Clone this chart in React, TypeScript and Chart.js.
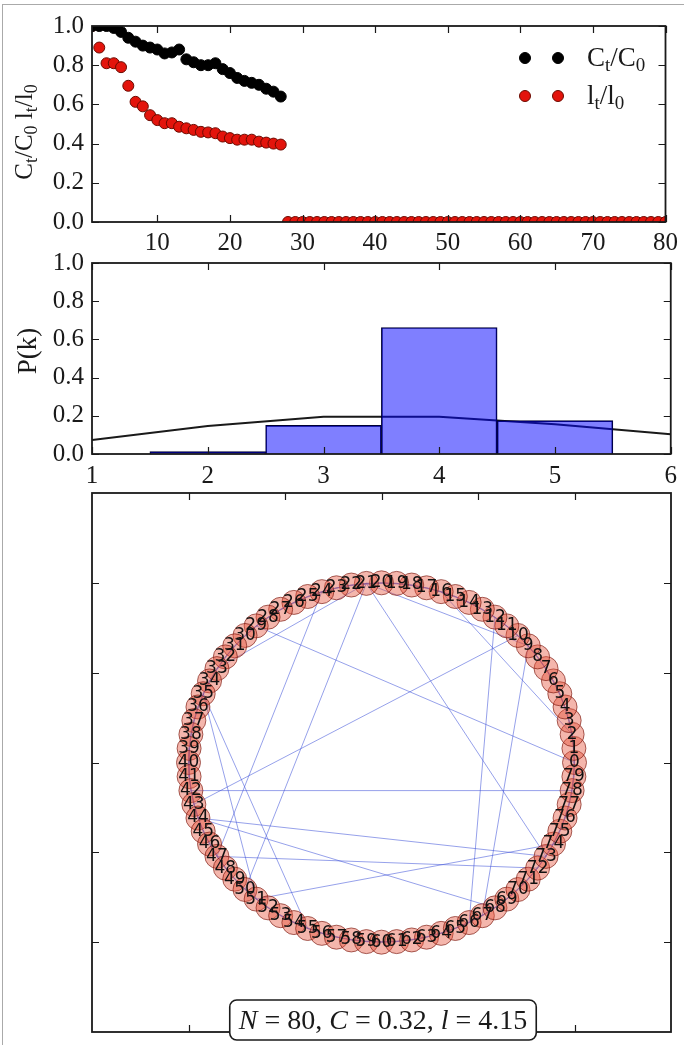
import React, { useEffect, useRef } from "react";
import { Chart, registerables } from "chart.js";
Chart.register(...registerables);

// ---------- DATA ----------
const timeSteps = Array.from({ length: 80 }, (_, i) => i + 1);
const clusteringRatio = [
  1.0, 1.0, 1.0, 0.99, 0.97, 0.94, 0.92, 0.9, 0.89, 0.88, 0.86, 0.865, 0.88, 0.83,
  0.815, 0.8, 0.8, 0.81, 0.78, 0.76, 0.735, 0.72, 0.71, 0.7, 0.68, 0.665, 0.64,
];
const pathRatio = [
  1.0, 0.89, 0.81, 0.81, 0.79, 0.695, 0.613, 0.59, 0.545, 0.52, 0.504, 0.504, 0.486,
  0.478, 0.47, 0.46, 0.457, 0.453, 0.436, 0.428, 0.42, 0.42, 0.42, 0.41, 0.405, 0.40,
  0.395, 0, 0, 0, 0, 0, 0, 0, 0, 0, 0, 0, 0, 0, 0, 0, 0, 0, 0, 0, 0, 0, 0, 0, 0, 0,
  0, 0, 0, 0, 0, 0, 0, 0, 0, 0, 0, 0, 0, 0, 0, 0, 0, 0, 0, 0, 0, 0, 0, 0, 0, 0, 0, 0, 0,
];
const topXTicks = [10, 20, 30, 40, 50, 60, 70, 80];
const unitYTicks = [0, 0.2, 0.4, 0.6, 0.8, 1.0];

const degreeBins = [2, 3, 4, 5];
const degreeFreq = [0.0125, 0.15, 0.6625, 0.175];
const poissonK = [1, 2, 3, 4, 5, 6];
const poissonP = [0.073, 0.147, 0.195, 0.195, 0.156, 0.104];
const degXTicks = [1, 2, 3, 4, 5, 6];

const nodeCount = 80;
const nodeIds = Array.from({ length: nodeCount }, (_, i) => i);
const shortcutEdges: [number, number][] = [
  [42, 78], [29, 0], [21, 50], [33, 21], [21, 9], [21, 73], [24, 47], [44, 73],
  [44, 68], [51, 74], [12, 66], [9, 67], [16, 2], [35, 51], [35, 55], [47, 72], [43, 10],
];
const netTicks = [-1, -0.5, 0, 0.5, 1];

// ---------- HELPERS ----------
const SERIF = '"Liberation Serif", "Times New Roman", serif';

type Part = [string, "n" | "s" | "i"];
function drawRich(ctx: CanvasRenderingContext2D, parts: Part[], x: number, y: number, size: number, align: "left" | "center" = "left") {
  const fontFor = (st: string) =>
    st === "s" ? `${Math.round(size * 0.7)}px ${SERIF}` : st === "i" ? `italic ${size}px ${SERIF}` : `${size}px ${SERIF}`;
  let total = 0;
  for (const [t, st] of parts) {
    ctx.font = fontFor(st);
    total += ctx.measureText(t).width;
  }
  let cx = align === "center" ? x - total / 2 : x;
  ctx.textBaseline = "alphabetic";
  ctx.textAlign = "left";
  for (const [t, st] of parts) {
    ctx.font = fontFor(st);
    ctx.fillText(t, cx, y + (st === "s" ? size * 0.2 : 0));
    cx += ctx.measureText(t).width;
  }
  return total;
}

const frameTicks = {
  id: "frameTicks",
  afterDatasetsDraw(chart: any, _a: any, opts: any) {
    const { ctx, chartArea: a, scales } = chart;
    ctx.save();
    ctx.strokeStyle = "#1a1a1a";
    ctx.lineWidth = 1.2;
    const L = 7;
    ctx.beginPath();
    for (const v of opts.xt || []) {
      const p = Math.round(scales.x.getPixelForValue(v)) + 0.5;
      ctx.moveTo(p, a.bottom);
      ctx.lineTo(p, a.bottom - L);
      ctx.moveTo(p, a.top);
      ctx.lineTo(p, a.top + L);
    }
    for (const v of opts.yt || []) {
      const p = Math.round(scales.y.getPixelForValue(v)) + 0.5;
      ctx.moveTo(a.left, p);
      ctx.lineTo(a.left + L, p);
      ctx.moveTo(a.right, p);
      ctx.lineTo(a.right - L, p);
    }
    ctx.stroke();
    ctx.lineWidth = 1.8;
    ctx.strokeRect(a.left, a.top, a.right - a.left, a.bottom - a.top);
    ctx.restore();
  },
};

const tickFont = { family: SERIF, size: 25 };
function axisBase(extra: any) {
  return {
    grid: { display: false, drawTicks: false },
    border: { display: false },
    ticks: { font: tickFont, color: "#1a1a1a", maxRotation: 0, autoSkip: false, padding: 8 },
    ...extra,
  };
}

function useChart(ref: React.RefObject<HTMLCanvasElement>, make: () => any) {
  useEffect(() => {
    if (!ref.current) return;
    const c = new Chart(ref.current, make());
    return () => c.destroy();
  }, []);
}

export default function App() {
  const r1 = useRef<HTMLCanvasElement>(null);
  const r2 = useRef<HTMLCanvasElement>(null);
  const r3 = useRef<HTMLCanvasElement>(null);

  useEffect(() => {
    document.body.style.margin = "0";
  }, []);

  // ---- top chart ----
  useChart(r1, () => ({
    type: "scatter",
    data: {
      datasets: [
        {
          data: clusteringRatio.map((v, i) => ({ x: timeSteps[i], y: v })),
          pointRadius: 5.5,
          backgroundColor: "#000",
          borderColor: "#000",
          borderWidth: 1,
          clip: 0,
        },
        {
          data: pathRatio.map((v, i) => ({ x: timeSteps[i], y: v })),
          pointRadius: 5.5,
          backgroundColor: "#e3140c",
          borderColor: "#6a0a00",
          borderWidth: 1,
          clip: 0,
        },
      ],
    },
    options: {
      animation: false,
      responsive: false,
      events: [],
      layout: { padding: { left: 0, right: 11, top: 26, bottom: 0 } },
      plugins: {
        legend: { display: false },
        tooltip: { enabled: false },
        frameTicks: { xt: topXTicks, yt: unitYTicks },
      },
      scales: {
        x: axisBase({
          type: "linear",
          min: 1,
          max: 80,
          afterBuildTicks: (s: any) => (s.ticks = topXTicks.map((v) => ({ value: v }))),
          afterFit: (s: any) => (s.height = 40),
          ticks: { font: tickFont, color: "#1a1a1a", maxRotation: 0, autoSkip: false, padding: 6 },
        }),
        y: axisBase({
          min: 0,
          max: 1,
          afterBuildTicks: (s: any) => (s.ticks = unitYTicks.map((v) => ({ value: v }))),
          afterFit: (s: any) => (s.width = 92),
          ticks: { font: tickFont, color: "#1a1a1a", padding: 8, callback: (v: any) => Number(v).toFixed(1) },
        }),
      },
    },
    plugins: [
      frameTicks,
      {
        id: "topText",
        afterDraw(chart: any) {
          const ctx = chart.ctx;
          ctx.save();
          ctx.fillStyle = "#1a1a1a";
          ctx.translate(32, 132);
          ctx.rotate(-Math.PI / 2);
          drawRich(
            ctx,
            [["C", "n"], ["t", "s"], ["/C", "n"], ["0", "s"], [" l", "n"], ["t", "s"], ["/l", "n"], ["0", "s"]],
            0,
            0,
            25,
            "center"
          );
          ctx.restore();
          // legend
          ctx.save();
          const rows: { y: number; fill: string; edge: string; parts: Part[] }[] = [
            { y: 58, fill: "#000", edge: "#000", parts: [["C", "n"], ["t", "s"], ["/C", "n"], ["0", "s"]] },
            { y: 96, fill: "#e3140c", edge: "#6a0a00", parts: [["l", "n"], ["t", "s"], ["/l", "n"], ["0", "s"]] },
          ];
          for (const row of rows) {
            for (const mx of [525, 558]) {
              ctx.beginPath();
              ctx.arc(mx, row.y, 5.5, 0, Math.PI * 2);
              ctx.fillStyle = row.fill;
              ctx.fill();
              ctx.strokeStyle = row.edge;
              ctx.lineWidth = 1;
              ctx.stroke();
            }
            ctx.fillStyle = "#1a1a1a";
            drawRich(ctx, row.parts, 587, row.y + 8, 27);
          }
          ctx.restore();
        },
      },
    ],
  }));

  // ---- middle chart ----
  useChart(r2, () => ({
    type: "bar",
    data: {
      datasets: [
        {
          type: "bar",
          data: degreeBins.map((k, i) => ({ x: k, y: degreeFreq[i] })),
          backgroundColor: "rgba(0,0,255,0.5)",
          borderColor: "#000033",
          borderWidth: 1,
          barPercentage: 1,
          categoryPercentage: 1,
          grouped: false,
          clip: 0,
        },
        {
          type: "line",
          data: poissonK.map((k, i) => ({ x: k, y: poissonP[i] })),
          borderColor: "#1a1a1a",
          borderWidth: 2,
          pointRadius: 0,
          tension: 0,
          fill: false,
        },
      ],
    },
    options: {
      animation: false,
      responsive: false,
      events: [],
      layout: { padding: { left: 0, right: 11, top: 15, bottom: 0 } },
      plugins: {
        legend: { display: false },
        tooltip: { enabled: false },
        frameTicks: { xt: degXTicks, yt: unitYTicks },
      },
      scales: {
        x: axisBase({
          type: "linear",
          min: 1,
          max: 6,
          offset: false,
          afterBuildTicks: (s: any) => (s.ticks = degXTicks.map((v) => ({ value: v }))),
          afterFit: (s: any) => (s.height = 36),
          ticks: { font: tickFont, color: "#1a1a1a", maxRotation: 0, autoSkip: false, padding: 7 },
        }),
        y: axisBase({
          min: 0,
          max: 1,
          afterBuildTicks: (s: any) => (s.ticks = unitYTicks.map((v) => ({ value: v }))),
          afterFit: (s: any) => (s.width = 92),
          ticks: { font: tickFont, color: "#1a1a1a", padding: 8, callback: (v: any) => Number(v).toFixed(1) },
        }),
      },
    },
    plugins: [
      frameTicks,
      {
        id: "midText",
        afterDraw(chart: any) {
          const ctx = chart.ctx;
          ctx.save();
          ctx.fillStyle = "#1a1a1a";
          ctx.translate(36, 111);
          ctx.rotate(-Math.PI / 2);
          drawRich(ctx, [["P(k)", "n"]], 0, 0, 27, "center");
          ctx.restore();
        },
      },
    ],
  }));

  // ---- network chart ----
  useChart(r3, () => {
    const pos = nodeIds.map((i) => ({
      x: Math.cos((2 * Math.PI * i) / nodeCount),
      y: Math.sin((2 * Math.PI * i) / nodeCount),
    }));
    const edges: [number, number][] = [];
    for (const i of nodeIds) {
      edges.push([i, (i + 1) % nodeCount]);
      edges.push([i, (i + 2) % nodeCount]);
    }
    for (const e of shortcutEdges) edges.push(e);
    const edgeSets = edges.map(([a, b]) => ({
      type: "line",
      data: [pos[a], pos[b]],
      borderColor: "rgba(60,80,215,0.6)",
      borderWidth: 0.9,
      pointRadius: 0,
      showLine: true,
      fill: false,
    }));
    return {
      type: "scatter",
      data: {
        datasets: [
          {
            data: pos,
            pointRadius: 12,
            backgroundColor: "rgba(228,80,58,0.42)",
            borderColor: "rgba(120,20,10,0.65)",
            borderWidth: 1,
          },
          ...edgeSets,
        ],
      },
      options: {
        animation: false,
        responsive: false,
        events: [],
        layout: { padding: { left: 92, right: 11, top: 5, bottom: 5 } },
        plugins: {
          legend: { display: false },
          tooltip: { enabled: false },
          frameTicks: { xt: netTicks, yt: netTicks },
        },
        scales: {
          x: { type: "linear", min: -1.5, max: 1.5, display: false },
          y: { type: "linear", min: -1.5, max: 1.5, display: false },
        },
      },
      plugins: [
        frameTicks,
        {
          id: "netText",
          afterDraw(chart: any) {
            const ctx = chart.ctx;
            const { x, y } = chart.scales;
            ctx.save();
            ctx.fillStyle = "#111";
            ctx.font = '17px "DejaVu Sans", sans-serif';
            ctx.textAlign = "center";
            ctx.textBaseline = "middle";
            nodeIds.forEach((i) => {
              ctx.fillText(String(i), x.getPixelForValue(pos[i].x), y.getPixelForValue(pos[i].y));
            });
            // info box
            const parts: Part[] = [["N", "i"], [" = 80, ", "n"], ["C", "i"], [" = 0.32, ", "n"], ["l", "i"], [" = 4.15", "n"]];
            const fs = 28;
            let w = 0;
            for (const [t, st] of parts) {
              ctx.font = st === "i" ? `italic ${fs}px ${SERIF}` : `${fs}px ${SERIF}`;
              w += ctx.measureText(t).width;
            }
            const cx = 383, cy = 540;
            const bw = w + 18, bh = 40;
            ctx.beginPath();
            (ctx as any).roundRect(cx - bw / 2, cy - bh / 2, bw, bh, 7);
            ctx.fillStyle = "#fff";
            ctx.fill();
            ctx.strokeStyle = "#1a1a1a";
            ctx.lineWidth = 1.6;
            ctx.stroke();
            ctx.fillStyle = "#1a1a1a";
            drawRich(ctx, parts, cx, cy + 9, fs, "center");
            ctx.restore();
          },
        },
      ],
    };
  });

  return (
    <div style={{ position: "relative", width: 684, height: 1045, background: "#fff", overflow: "hidden" }}>
      <canvas ref={r1} width={684} height={262} style={{ position: "absolute", left: 0, top: 0 }} />
      <canvas ref={r2} width={684} height={250} style={{ position: "absolute", left: 0, top: 240 }} />
      <canvas ref={r3} width={684} height={565} style={{ position: "absolute", left: 0, top: 480 }} />
      <div
        style={{
          position: "absolute",
          left: 2,
          top: 4,
          width: 690,
          height: 1050,
          borderTop: "1px solid #aaa",
          borderLeft: "1px solid #aaa",
          pointerEvents: "none",
        }}
      />
    </div>
  );
}
